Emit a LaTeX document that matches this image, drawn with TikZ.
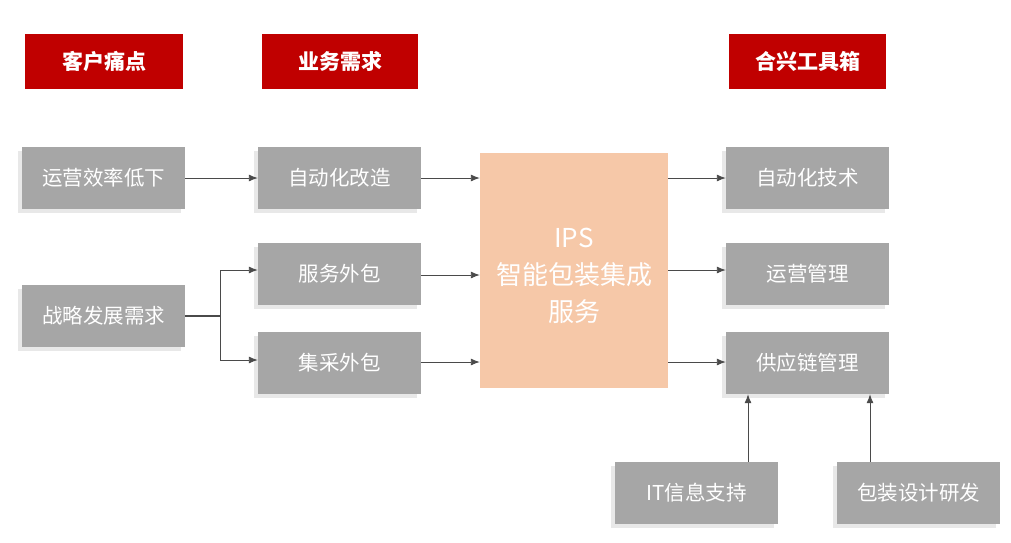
\documentclass[tikz,border=0pt]{standalone}
\usepackage{fontspec}
\setmainfont{Noto Sans CJK SC}
\usetikzlibrary{arrows.meta,calc,shadows}
\definecolor{hred}{HTML}{C00000}
\definecolor{gboxc}{HTML}{A6A6A6}
\definecolor{peach}{HTML}{F6C8A8}
\definecolor{lnc}{HTML}{4A4A4A}
\tikzset{
  hbox/.style={fill=hred, text=white, font=\fontsize{21}{24}\selectfont\bfseries, inner sep=0pt, minimum height=55pt},
  gbox/.style={fill=gboxc, text=white, font=\fontsize{20.5}{24}\selectfont, inner sep=0pt, minimum width=163pt, minimum height=62pt,
    drop shadow={shadow xshift=-4pt, shadow yshift=-4pt, opacity=0.18}},
  conn/.style={draw=lnc, line width=0.9pt, -{Latex[length=9pt,width=7pt]}}
}
\begin{document}
\begin{tikzpicture}[x=1pt,y=-1pt]
\useasboundingbox (0,0) rectangle (1011,542);
% headers
\node[hbox, minimum width=158pt] (h1) at (104,61.5) {客户痛点};
\node[hbox, minimum width=156pt] (h2) at (340,61.5) {业务需求};
\node[hbox, minimum width=157pt] (h3) at (807.5,61.5) {合兴工具箱};
% left column
\node[gbox] (a1) at (103.5,178) {运营效率低下};
\node[gbox] (a2) at (103.5,315.5) {战略发展需求};
% middle column
\node[gbox] (b1) at (339.5,178) {自动化改造};
\node[gbox] (b2) at (339.5,274) {服务外包};
\node[gbox] (b3) at (339.5,363) {集采外包};
% center
\node[fill=peach, inner sep=0pt, minimum width=188pt, minimum height=235pt] (ips) at (574,270.5) {};
\node[text=white, font=\fontsize{26}{37}\selectfont, align=center, inner sep=0pt] (ipst) at (574,276) {IPS\\智能包装集成\\服务};
% right column
\node[gbox] (c1) at (807.5,178) {自动化技术};
\node[gbox] (c2) at (807.5,273.5) {运营管理};
\node[gbox] (c3) at (807.5,363) {供应链管理};
% bottom
\node[gbox] (d1) at (696.5,493) {IT信息支持};
\node[gbox] (d2) at (918.5,493) {包装设计研发};
% connectors
\draw[conn] (a1.east) -- (b1.west);
\coordinate (j) at (220,316);
\draw[draw=lnc, line width=2pt] (a2.east |- j) -- (j);
\coordinate (j1) at (220,270);
\coordinate (j2) at (220,360);
\draw[draw=lnc, line width=0.9pt] (j1) -- (j2);
\draw[conn] (j1) -- (j1 -| b2.west);
\draw[conn] (j2) -- (j2 -| b3.west);
\draw[conn] (b1.east) -- (b1.east -| ips.west);
\coordinate (m2) at (421,275);
\coordinate (m3) at (421,362);
\draw[conn] (m2) -- (m2 -| ips.west);
\draw[conn] (m3) -- (m3 -| ips.west);
\draw[conn] (ips.east |- c1.west) -- (c1.west);
\coordinate (r2) at (668,270);
\coordinate (r3) at (668,362);
\draw[conn] (r2) -- (r2 -| c2.west);
\draw[conn] (r3) -- (r3 -| c3.west);
\coordinate (u1) at ($(d1.north)+(51.5,0)$);
\coordinate (u2) at ($(d2.north)+(-48.5,0)$);
\draw[conn] (u1) -- (u1 |- c3.south);
\draw[conn] (u2) -- (u2 |- c3.south);
\end{tikzpicture}
\end{document}
